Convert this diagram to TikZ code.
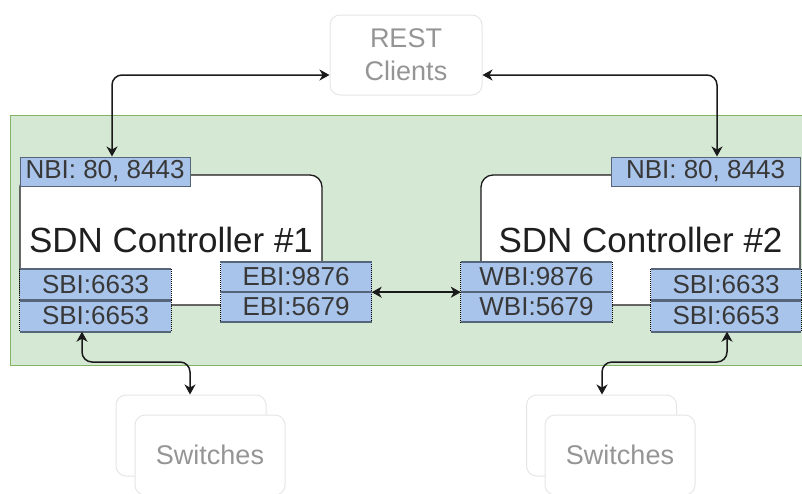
\documentclass[tikz,border=0pt]{standalone}
\usepackage{fontspec}
\setmainfont{Liberation Sans}
\usetikzlibrary{arrows.meta}
\definecolor{grpfill}{HTML}{D5E8D4}
\definecolor{grpline}{HTML}{82B366}
\definecolor{portfill}{HTML}{A9C4EB}
\definecolor{portline}{HTML}{56657A}
\definecolor{faintline}{HTML}{E6E6E6}
\definecolor{fainttext}{HTML}{959595}
\definecolor{wire}{HTML}{1A1A1A}

\begin{document}
\begin{tikzpicture}[x=1pt,y=-1pt,
  group/.style={draw=grpline, line width=1pt, fill=grpfill, inner sep=0pt},
  ctlbox/.style={draw=wire, line width=1.3pt, fill=white, rounded corners=12pt,
    inner sep=0pt, text=black!88, font=\fontsize{35}{40}\selectfont},
  portbox/.style={fill=portfill, inner sep=0pt, text=black!78,
    font=\fontsize{26}{28}\selectfont},
  extbox/.style={draw=faintline, line width=1pt, fill=white, rounded corners=10pt,
    inner sep=0pt, text=fainttext, align=center, font=\fontsize{27}{33}\selectfont},
  conn/.style={draw=wire, line width=1.5pt, rounded corners=10pt,
    {Stealth[length=10pt,width=11pt,inset=3pt]}-{Stealth[length=10pt,width=11pt,inset=3pt]}}
]
\useasboundingbox (0,0) rectangle (802,493);
\clip (0,0) rectangle (802,493);

% controller cluster background
\node[group, minimum width=795pt, minimum height=250pt] (cluster) at (407.5,240) {};

% the two controllers
\node[ctlbox, minimum width=302pt, minimum height=130pt] (ctl1) at (171,240) {SDN Controller \#1};
\node[ctlbox, minimum width=319pt, minimum height=130pt] (ctl2) at (640.5,240) {SDN Controller \#2};

% northbound interfaces
\node[portbox, draw=portline, line width=1pt, minimum width=170pt, minimum height=29pt] (nbi1) at (105,171.5) {NBI: 80, 8443};
\node[portbox, draw=portline, line width=1pt, minimum width=189pt, minimum height=29pt] (nbi2) at (705.5,171.5) {NBI: 80, 8443};

% southbound, east- and westbound interfaces
\node[portbox, minimum width=151pt, minimum height=31pt] (sbi1a) at (95.5,285) {SBI:6633};
\node[portbox, minimum width=151pt, minimum height=31pt] (sbi1b) at (95.5,316) {SBI:6653};
\node[portbox, minimum width=151pt, minimum height=30pt] (ebi1) at (296,277) {EBI:9876};
\node[portbox, minimum width=151pt, minimum height=30pt] (ebi2) at (296,307) {EBI:5679};
\node[portbox, minimum width=151pt, minimum height=30pt] (wbi1) at (536.5,277) {WBI:9876};
\node[portbox, minimum width=151pt, minimum height=30pt] (wbi2) at (536.5,307) {WBI:5679};
\node[portbox, minimum width=150pt, minimum height=31pt] (sbi2a) at (726,285) {SBI:6633};
\node[portbox, minimum width=150pt, minimum height=31pt] (sbi2b) at (726,316) {SBI:6653};

\foreach \n in {sbi1a,sbi1b,ebi1,ebi2,wbi1,wbi2,sbi2a,sbi2b} {
  \draw[black, line width=0.9pt, dash pattern=on 1pt off 1pt]
    (\n.north west) -- (\n.south west) (\n.north east) -- (\n.south east);
  \draw[portline, line width=1.8pt]
    (\n.north west) -- (\n.north east) (\n.south west) -- (\n.south east);
}

% external parties
\node[extbox, minimum width=152pt, minimum height=80pt] (rest) at (406,55) {REST\\Clients};
\node[extbox, minimum width=150pt, minimum height=81pt] (sw1b) at (191,435.5) {};
\node[extbox, minimum width=150pt, minimum height=80pt] (sw1f) at (210,455) {Switches};
\node[extbox, minimum width=150pt, minimum height=81pt] (sw2b) at (601.5,435.5) {};
\node[extbox, minimum width=150pt, minimum height=80pt] (sw2f) at (620,455) {Switches};

% connectors
\coordinate (nl) at (112,75);
\coordinate (nr) at (717,75);
\draw[conn] (nbi1.north -| nl) -- (nl) -- (rest.west |- nl);
\draw[conn] (rest.east |- nr) -- (nr) -- (nbi2.north -| nr);

\draw[conn] (ebi1.south east) -- (wbi1.south west);

\coordinate (sl1) at (82,362);
\coordinate (sl2) at (190,362);
\draw[conn] (sbi1b.south -| sl1) -- (sl1) -- (sl2) -- (sw1b.north -| sl2);

\coordinate (sr1) at (727,362);
\coordinate (sr2) at (602,362);
\draw[conn] (sbi2b.south -| sr1) -- (sr1) -- (sr2) -- (sw2b.north -| sr2);
\end{tikzpicture}
\end{document}
